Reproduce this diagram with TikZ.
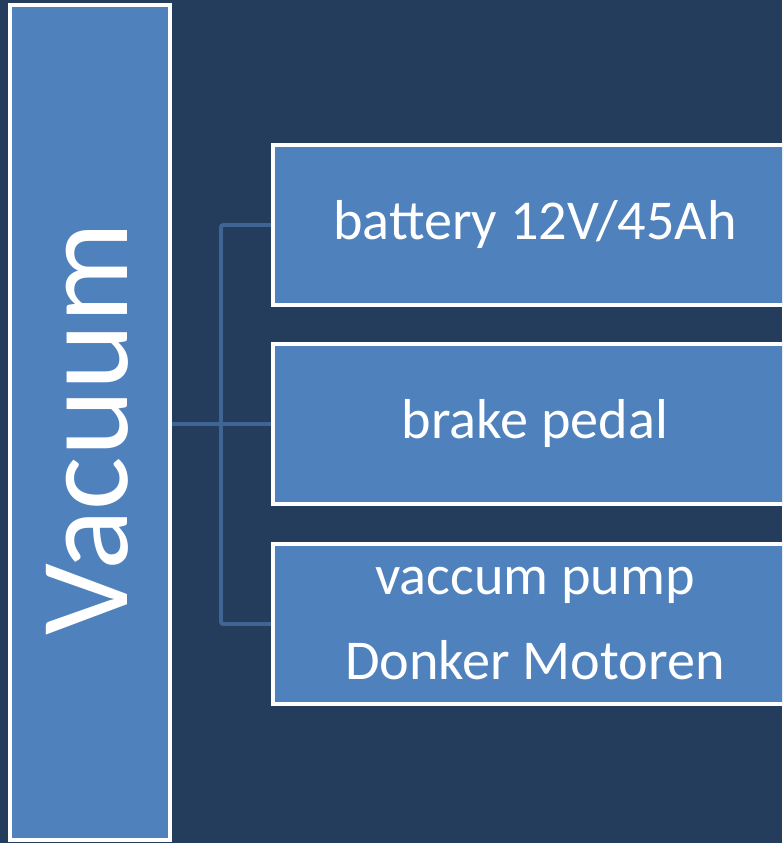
\documentclass[tikz,border=0pt]{standalone}
\usepackage{fontspec}
\setmainfont{Carlito}
\usetikzlibrary{positioning}
\definecolor{vcnavy}{HTML}{243D5D}
\definecolor{vcblue}{HTML}{4F81BD}
\definecolor{vclink}{HTML}{3E6594}
\begin{document}
\begin{tikzpicture}[
  x=0.03cm, y=-0.03cm,
  vacbox/.style={rectangle, draw=white, fill=vcblue, line width=3.6pt, minimum width=4.8cm, minimum height=25.05cm, inner sep=0pt},
  partbox/.style={rectangle, draw=white, fill=vcblue, line width=3.6pt, minimum width=15.72cm, minimum height=4.8cm, align=center, text=white, font=\fontsize{48}{72.5}\selectfont},
  link/.style={draw=vclink, line width=3.4pt, rounded corners=2pt},
]

% Background and frame
\useasboundingbox (0,0) rectangle (782,843);
\clip (0,0) rectangle (782,843);
\fill[vcnavy] (0,0) rectangle (782,843);

% Main block
\node[vacbox] (vac) at (90, 422.5) {};
\node[rotate=90, text=white, font=\fontsize{108}{120}\selectfont] (vaclabel) at (87, 429) {Vacuum};

% Bus line
\coordinate (bus) at (221, 424);
\coordinate (bat-in) at (273, 225);
\coordinate (brake-in) at (273, 424);
\coordinate (pump-in) at (273, 624);
\draw[link] (vac.east |- bus) -- (brake-in);
\draw[link] (bat-in) -| (bus) |- (pump-in);

% Parts
\node[partbox] (bat) at (535, 225) {battery 12V/45Ah};
\node[partbox] (brake) at (535, 424) {brake pedal};
\node[partbox] (pump) at (535, 624) {vaccum pump\\Donker Motoren};

\end{tikzpicture}
\end{document}
